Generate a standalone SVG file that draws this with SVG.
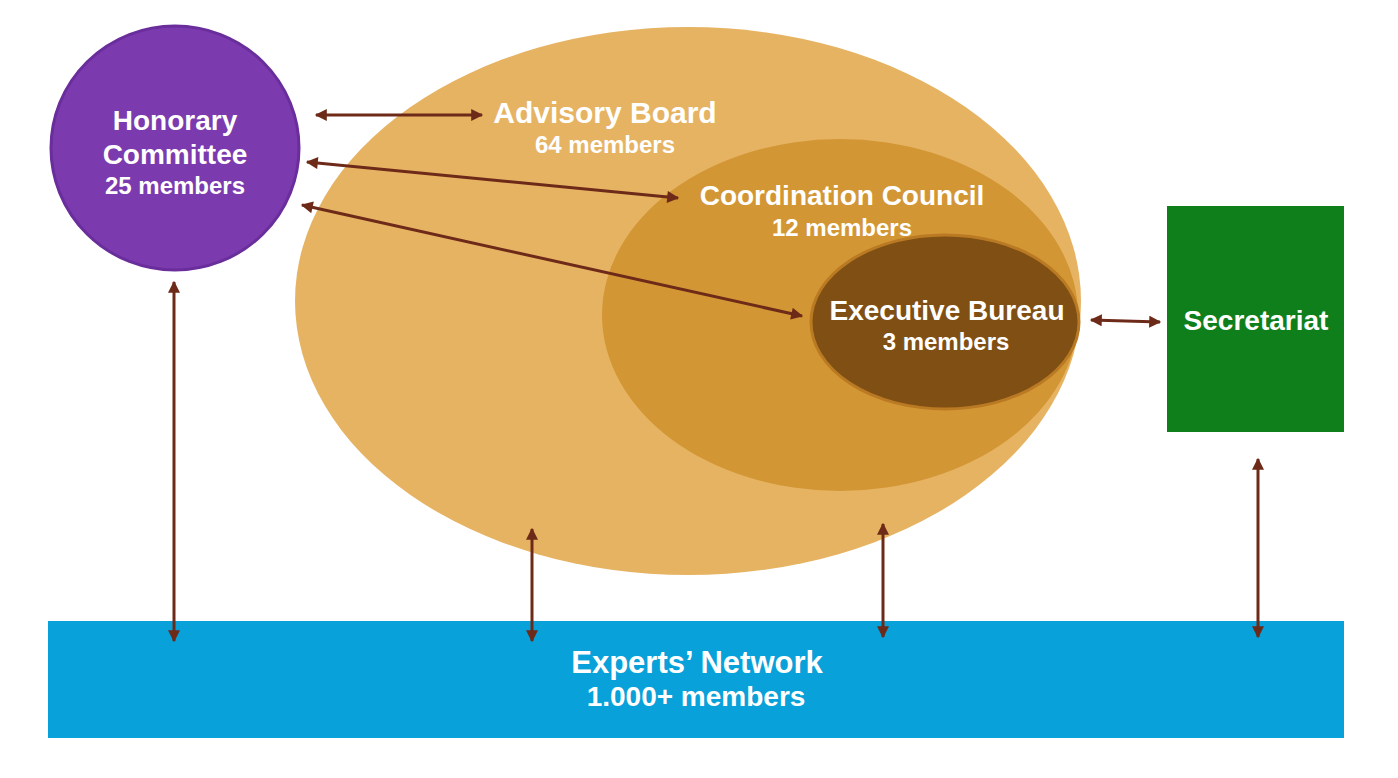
<svg xmlns="http://www.w3.org/2000/svg" width="1398" height="778" viewBox="0 0 1398 778">
<defs>
<style>
text{font-family:"Liberation Sans",Arial,sans-serif;font-weight:bold;fill:#fff;text-anchor:middle}
.t{font-size:28px}
.s{font-size:24px}
.c{stroke:#6E2A18;stroke-width:3;fill:none;marker-start:url(#ah);marker-end:url(#ah)}
</style>
<marker id="ah" viewBox="0 0 10 10" refX="9" refY="5" markerWidth="13" markerHeight="12" markerUnits="userSpaceOnUse" orient="auto-start-reverse">
<path d="M0,0 L10,5 L0,10 z" fill="#6E2A18"/>
</marker>
</defs>
<rect width="1398" height="778" fill="#fff"/>
<g id="advisory">
<ellipse cx="688" cy="301" rx="393" ry="274" fill="#E6B363"/>
<text x="605" y="123" style="font-size:30px">Advisory Board</text>
<text class="s" x="605" y="153">64 members</text>
</g>
<g id="coordination">
<ellipse cx="840" cy="315" rx="238" ry="176" fill="#D39634"/>
<text class="t" x="842" y="205">Coordination Council</text>
<text class="s" x="842" y="236">12 members</text>
</g>
<g id="executive">
<ellipse cx="945" cy="322" rx="134" ry="87" fill="#7F4F13" stroke="#B97A23" stroke-width="3"/>
<text class="t" x="947" y="320">Executive Bureau</text>
<text class="s" x="946" y="350">3 members</text>
</g>
<g id="honorary">
<ellipse cx="175" cy="148" rx="124" ry="122" fill="#7B3AAE" stroke="#6A2E9C" stroke-width="3"/>
<text class="t" x="175" y="130">Honorary</text>
<text class="t" x="175" y="164">Committee</text>
<text class="s" x="175" y="194">25 members</text>
</g>
<g id="secretariat">
<rect x="1167" y="206" width="177" height="226" fill="#0F7F1C"/>
<text class="t" x="1256" y="330">Secretariat</text>
</g>
<g id="experts">
<rect x="48" y="621" width="1296" height="117" fill="#08A1D9"/>
<text x="697" y="673" style="font-size:31px">Experts’ Network</text>
<text class="t" x="696" y="706">1.000+ members</text>
</g>
<g id="connectors">
<line class="c" x1="316" y1="115" x2="482" y2="115"/>
<line class="c" x1="307" y1="162" x2="678" y2="198"/>
<line class="c" x1="302" y1="205" x2="802" y2="316"/>
<line class="c" x1="1091" y1="320" x2="1160" y2="322"/>
<line class="c" x1="174" y1="282" x2="174" y2="641"/>
<line class="c" x1="532" y1="529" x2="532" y2="641"/>
<line class="c" x1="883" y1="524" x2="883" y2="637"/>
<line class="c" x1="1258" y1="459" x2="1258" y2="637"/>
</g>
</svg>
